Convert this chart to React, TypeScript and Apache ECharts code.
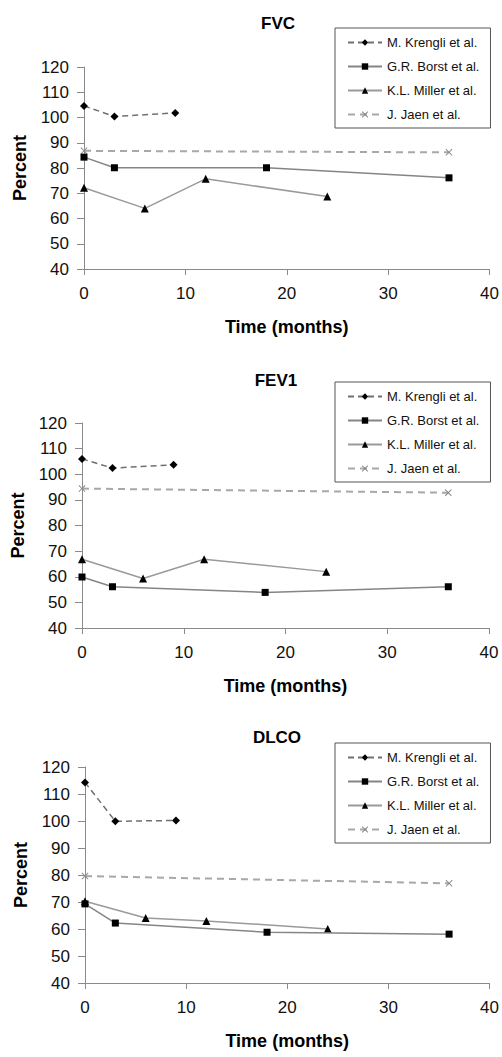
import React, { useEffect, useRef } from "react";
import * as echarts from "echarts";

const panelTitles = ["FVC", "FEV1", "DLCO"];
const seriesNames = ["M. Krengli et al.", "G.R. Borst et al.", "K.L. Miller et al.", "J. Jaen et al."];

const krengliMonths = [0, 3, 9];
const borstMonths = [0, 3, 18, 36];
const millerMonths = [0, 6, 12, 24];
const jaenMonths = [0, 36];

const fvcKrengli = [104.6, 100.4, 101.8];
const fvcBorst = [84.3, 80.1, 80.1, 76.1];
const fvcMiller = [72.2, 64.0, 75.7, 68.7];
const fvcJaen = [86.8, 86.2];

const fev1Krengli = [106.0, 102.4, 103.7];
const fev1Borst = [59.9, 56.1, 53.9, 56.1];
const fev1Miller = [66.8, 59.3, 66.8, 62.0];
const fev1Jaen = [94.4, 92.8];

const dlcoKrengli = [114.3, 99.9, 100.2];
const dlcoBorst = [69.3, 62.2, 58.8, 58.1];
const dlcoMiller = [70.3, 64.1, 63.0, 60.0];
const dlcoJaen = [79.6, 76.9];

const xTicks = [0, 10, 20, 30, 40];
const yTicks = [40, 50, 60, 70, 80, 90, 100, 110, 120];

const FONT = "'Liberation Sans', Arial, sans-serif";
const X_SYMBOL = "path://M0,1L1,0L5,4L9,0L10,1L6,5L10,9L9,10L5,6L1,10L0,9L4,5Z";

const panels = [
  { values: [fvcKrengli, fvcBorst, fvcMiller, fvcJaen], grid: { left: 84, top: 67, width: 407, height: 202 }, titleX: 273, titleY: 10, legendTop: 28 },
  { values: [fev1Krengli, fev1Borst, fev1Miller, fev1Jaen], grid: { left: 82, top: 423, width: 407, height: 205 }, titleX: 271, titleY: 367, legendTop: 382 },
  { values: [dlcoKrengli, dlcoBorst, dlcoMiller, dlcoJaen], grid: { left: 85, top: 767, width: 405, height: 216 }, titleX: 272, titleY: 724, legendTop: 743 },
];

const monthsList = [krengliMonths, borstMonths, millerMonths, jaenMonths];
const styles = [
  { symbol: "diamond", symbolSize: 8, color: "#707070", type: [6, 4], width: 1.5 },
  { symbol: "rect", symbolSize: 7, color: "#858585", type: "solid", width: 1.5 },
  { symbol: "triangle", symbolSize: 8, color: "#9a9a9a", type: "solid", width: 1.5 },
  { symbol: X_SYMBOL, symbolSize: 7, color: "#a8a8a8", type: [7, 5], width: 2 },
];

export default function App() {
  const ref = useRef<HTMLDivElement>(null);
  useEffect(() => {
    if (!ref.current) return;
    const chart = echarts.init(ref.current, null, { renderer: "svg" });
    const grid: any[] = [];
    const xAxis: any[] = [];
    const yAxis: any[] = [];
    const title: any[] = [];
    const legend: any[] = [];
    const series: any[] = [];
    panels.forEach((p, i) => {
      grid.push({ ...p.grid });
      xAxis.push({
        type: "value",
        gridIndex: i,
        min: xTicks[0],
        max: xTicks[xTicks.length - 1],
        interval: 10,
        name: "Time (months)",
        nameLocation: "middle",
        nameGap: 49,
        nameTextStyle: { fontFamily: FONT, fontSize: 18, fontWeight: "bold", color: "#000" },
        axisLine: { show: true, onZero: false, lineStyle: { color: "#8a8a8a", width: 1 } },
        axisTick: { show: true, length: 6, lineStyle: { color: "#8a8a8a" } },
        axisLabel: { fontFamily: FONT, fontSize: 17, color: "#111", margin: 16 },
        splitLine: { show: false },
      });
      yAxis.push({
        type: "value",
        gridIndex: i,
        min: yTicks[0],
        max: yTicks[yTicks.length - 1],
        interval: 10,
        name: "Percent",
        nameLocation: "middle",
        nameGap: 55,
        nameTextStyle: { fontFamily: FONT, fontSize: 18, fontWeight: "bold", color: "#000" },
        axisLine: { show: true, onZero: false, lineStyle: { color: "#8a8a8a", width: 1 } },
        axisTick: { show: true, length: 7, lineStyle: { color: "#8a8a8a" } },
        axisLabel: { fontFamily: FONT, fontSize: 17, color: "#111", margin: 15 },
        splitLine: { show: false },
      });
      title.push({
        text: panelTitles[i],
        left: p.titleX,
        top: p.titleY,
        textAlign: "center",
        textStyle: { fontFamily: FONT, fontSize: 17, fontWeight: "bold", color: "#000" },
      });
      legend.push({
        data: seriesNames,
        orient: "vertical",
        left: 335,
        top: p.legendTop,
        itemWidth: 34,
        itemHeight: 8,
        itemGap: 9,
        padding: [7, 11, 6, 12],
        borderColor: "#555",
        borderWidth: 1,
        backgroundColor: "#fff",
        selectedMode: false,
        textStyle: { fontFamily: FONT, fontSize: 13, color: "#111", lineHeight: 15 },
      });
      seriesNames.forEach((name, k) => {
        const s = styles[k];
        series.push({
          type: "line",
          name,
          xAxisIndex: i,
          yAxisIndex: i,
          data: monthsList[k].map((m, j) => [m, p.values[k][j]]),
          symbol: s.symbol,
          symbolSize: s.symbolSize,
          showAllSymbol: true,
          itemStyle: { color: k === 3 ? "#888" : "#000" },
          lineStyle: { color: s.color, type: s.type, width: s.width },
          z: 10 - k,
        });
      });
    });
    chart.setOption({
      animation: false,
      backgroundColor: "#fff",
      grid,
      xAxis,
      yAxis,
      title,
      legend,
      series,
    });
    return () => chart.dispose();
  }, []);
  return (
    <div
      ref={ref}
      style={{ position: "absolute", left: 0, top: 0, width: 502, height: 1057, background: "#fff" }}
    />
  );
}
